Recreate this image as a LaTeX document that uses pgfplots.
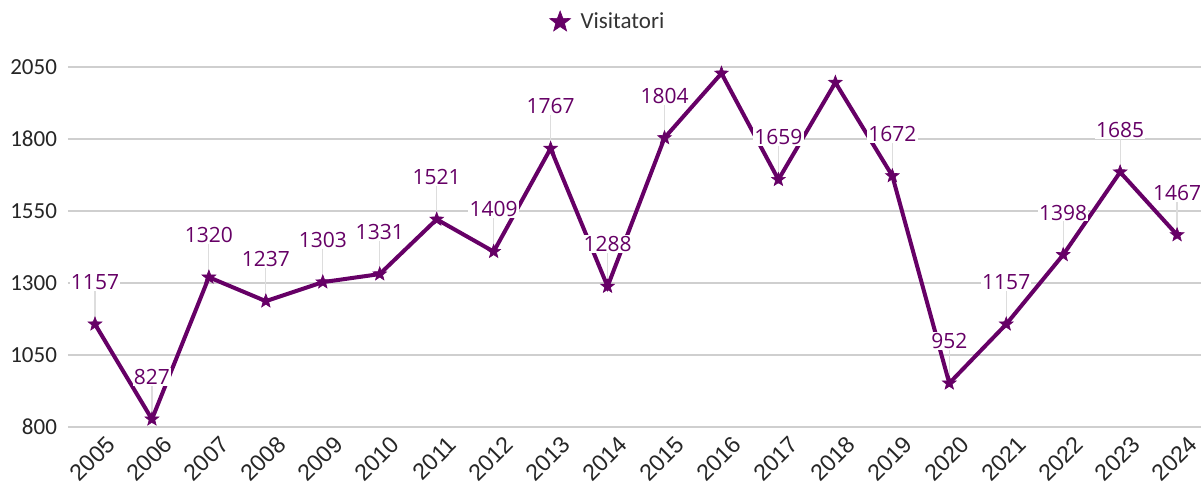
\documentclass[border=0pt]{standalone}
\usepackage{fontspec}
\setmainfont{Carlito}
\newfontfamily\labfont{Open Sans}
\newfontfamily\xfont{Liberation Sans}
\usepackage{pgfplots}
\pgfplotsset{compat=1.18}
\usepackage{pgfplotstable}
\definecolor{viola}{HTML}{660066}
\definecolor{gridc}{HTML}{CFCFCF}

% filled five-pointed star
\pgfdeclareplotmark{fstar}{%
  \pgfpathmoveto{\pgfpointpolar{90}{\pgfplotmarksize}}%
  \pgfpathlineto{\pgfpointpolar{126}{0.42\pgfplotmarksize}}%
  \pgfpathlineto{\pgfpointpolar{162}{\pgfplotmarksize}}%
  \pgfpathlineto{\pgfpointpolar{198}{0.42\pgfplotmarksize}}%
  \pgfpathlineto{\pgfpointpolar{234}{\pgfplotmarksize}}%
  \pgfpathlineto{\pgfpointpolar{270}{0.42\pgfplotmarksize}}%
  \pgfpathlineto{\pgfpointpolar{306}{\pgfplotmarksize}}%
  \pgfpathlineto{\pgfpointpolar{342}{0.42\pgfplotmarksize}}%
  \pgfpathlineto{\pgfpointpolar{18}{\pgfplotmarksize}}%
  \pgfpathlineto{\pgfpointpolar{54}{0.42\pgfplotmarksize}}%
  \pgfpathclose
  \pgfusepathqfillstroke}

\pgfplotstableread{
year val err lab
2005 1157 121 1157
2006 827 121 827
2007 1320 121 1320
2008 1237 121 1237
2009 1303 121 1303
2010 1331 121 1331
2011 1521 121 1521
2012 1409 121 1409
2013 1767 121 1767
2014 1288 121 1288
2015 1804 121 1804
2016 2028 0 {}
2017 1659 121 1659
2018 1996 0 {}
2019 1672 121 1672
2020 952 121 952
2021 1157 121 1157
2022 1398 121 1398
2023 1685 121 1685
2024 1467 121 1467
}\visite

\begin{document}
\begin{tikzpicture}
\useasboundingbox (0,0) rectangle (600.5pt,244.5pt);
\begin{axis}[
    at={(34pt,31pt)}, anchor=south west,
    scale only axis,
    width=566.5pt, height=180pt,
    xmin=2004.526, xmax=2024.42,
    ymin=800, ymax=2050,
    ytick={800,1050,1300,1550,1800,2050},
    xtick=data,
    axis line style={draw=none},
    major tick style={draw=none},
    ymajorgrids, grid style={gridc, line width=0.8pt},
    clip=false,
    /pgf/number format/1000 sep={},
    /pgf/number format/assume math mode=true,
    yticklabel style={font=\fontsize{11.5}{12}\selectfont, text=black!85, xshift=-2pt},
    xticklabel style={font=\xfont\fontsize{11.6}{13}\selectfont, text=black!85, rotate=45, anchor=north east, inner sep=1pt, xshift=2pt, yshift=-5pt},
    legend style={at={(0.4775,1.125)}, anchor=center, draw=none, fill=none,
        font=\fontsize{11.5}{12}\selectfont, text=black!80, legend cell align=left},
    legend image code/.code={\draw[mark=fstar, mark size=5.5pt, viola, fill=viola, line width=0.3pt] plot coordinates {(0cm,0cm)};},
]
% leader lines from each point to its label
\addplot[draw=none, mark=none, forget plot,
    error bars/.cd, y dir=plus, y explicit, error mark=none,
    error bar style={draw=gridc!70, line width=0.6pt}]
    table[x=year, y=val, y error=err] {\visite};
\addplot[viola, line width=2pt, mark=fstar, mark size=3.6pt,
    mark options={fill=viola, line width=0.3pt},
    point meta=explicit symbolic,
    nodes near coords,
    every node near coord/.append style={font=\labfont\fontsize{10.5}{12}\selectfont,
        text=viola, fill=white, inner sep=0.6pt, anchor=south, yshift=16.5pt}]
    table[x=year, y=val, meta=lab] {\visite};
\addlegendentry{\hspace{3pt}Visitatori}
\end{axis}
\end{tikzpicture}
\end{document}
